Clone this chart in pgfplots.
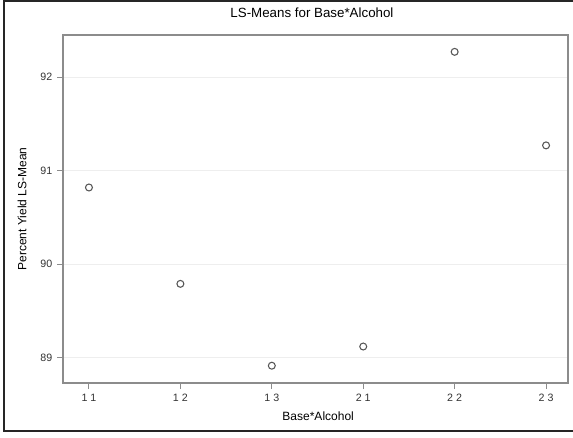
\documentclass[border=0pt]{standalone}
\usepackage{pgfplots}
\pgfplotsset{compat=1.18}
\usepackage{fontspec}
\setmainfont{Liberation Sans}
\definecolor{axisgray}{HTML}{8C8C8C}
\definecolor{txt}{HTML}{333333}
\definecolor{gridc}{HTML}{EEEEEE}
\definecolor{markc}{HTML}{555555}
\begin{document}
\begin{tikzpicture}
\path[use as bounding box] (0,0) rectangle (429.75pt,327.75pt);
\clip (0,0) rectangle (429.75pt,327.75pt);
\draw[line width=1pt, color=black!85] (3pt,4.5pt) rectangle (445pt,327pt);
\begin{axis}[
  scale only axis,
  width=378.75pt, height=261pt,
  at={(47.25pt,40.5pt)}, anchor=south west,
  xmin=0.716, xmax=6.24,
  ymin=88.73, ymax=92.45,
  xtick={1,2,3,4,5,6},
  xticklabels={1 1,1 2,1 3,2 1,2 2,2 3},
  ytick={89,90,91,92},
  /pgf/number format/assume math mode=true,
  tick align=outside,
  major tick length=4.5pt,
  axis line style={axisgray, line width=0.9pt},
  tick style={axisgray, line width=0.8pt},
  xtick pos=bottom, ytick pos=left,
  ymajorgrids, major grid style={gridc, line width=0.6pt},
  ticklabel style={font=\fontsize{8}{9}\selectfont, color=txt},
  xlabel={Base*Alcohol},
  xlabel style={font=\fontsize{9}{11}\selectfont, color=black, at={(axis description cs:0.5,0)}, anchor=center, yshift=-24.75pt, xshift=2pt},
  ylabel={Percent Yield LS-Mean},
  ylabel style={font=\fontsize{9}{11}\selectfont, color=black, at={(axis description cs:-0.0812,0.5)}, anchor=center},
  clip=false,
]
\addplot[only marks, mark=o, mark size=2.6pt, mark options={markc, line width=0.8pt}] coordinates {
(1,90.82) (2,89.79) (3,88.915) (4,89.12) (5,92.27) (6,91.27)
};
\node[font=\fontsize{10}{12}\selectfont, anchor=center] at (rel axis cs:0.493,1.0632) {LS-Means for Base*Alcohol};
\end{axis}
\end{tikzpicture}
\end{document}
